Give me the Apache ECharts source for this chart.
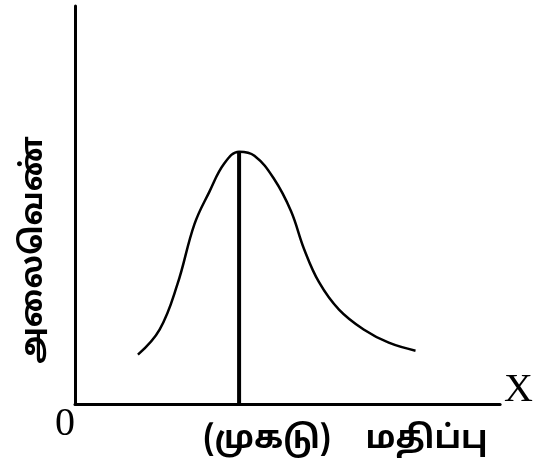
<!DOCTYPE html>
<html>
<head>
<meta charset="utf-8">
<script src="https://cdn.jsdelivr.net/npm/echarts@6/dist/echarts.min.js"></script>
<style>html,body{margin:0;padding:0;background:#fff}#c{width:536px;height:474px}</style>
</head>
<body>
<div id="c"></div>
<script>
// Curve (frequency curve), in axis units 0..100
const curveX = [14.8, 19.9, 24.1, 28.1, 31.6, 35.1, 38.6, 42.2, 46.8, 50.8, 53.9, 57.4, 62.1, 67.9, 73.8, 80.1];
const curveY = [12.4, 18.7, 30.1, 45.2, 53.3, 60.4, 63.4, 62.4, 56.6, 48.5, 38.9, 30.6, 23.7, 18.7, 15.4, 13.4];
const xTickValues = [45.2, 82.7];
const xTickLabels = ['(முகடு)', 'மதிப்பு'];
const yAxisName = 'அலைவெண்';
const xAxisName = 'X';
const originLabel = '0';

const peakIdx = curveY.indexOf(Math.max(...curveY));
const modeX = curveX[peakIdx];
const modeY = curveY[peakIdx];

const chart = echarts.init(document.getElementById('c'));
const tamilFont = '"Noto Sans Tamil","Noto Sans","Lohit Tamil",sans-serif';
const serif = '"Liberation Serif","DejaVu Serif",serif';
chart.setOption({
  animation: false,
  backgroundColor: '#fff',
  grid: { left: 75, right: 34, top: 6, bottom: 70 },
  xAxis: {
    type: 'value', min: 0, max: 100,
    axisLine: { show: true, lineStyle: { color: '#000', width: 3 } },
    axisTick: { show: false },
    splitLine: { show: false },
    axisLabel: {
      customValues: xTickValues,
      formatter: v => xTickLabels[xTickValues.indexOf(v)] || '',
      color: '#000', fontSize: 32, fontWeight: 'bold', fontFamily: tamilFont, margin: 22
    },
    name: xAxisName, nameLocation: 'end', nameGap: 4,
    nameTextStyle: { color: '#000', fontSize: 40, fontFamily: serif, verticalAlign: 'bottom', padding: [0,0,-6,0] }
  },
  yAxis: {
    type: 'value', min: 0, max: 100,
    axisLine: { show: true, lineStyle: { color: '#000', width: 3 } },
    axisTick: { show: false },
    splitLine: { show: false },
    axisLabel: { show: false }
  },
  graphic: [{
    type: 'text', left: 55, top: 404,
    style: { text: originLabel, fill: '#000', fontSize: 40, fontFamily: serif }
  }, {
    type: 'text', x: 36, y: 250, rotation: Math.PI / 2,
    style: { text: yAxisName, fill: '#000', fontSize: 30, fontWeight: 'bold', fontFamily: tamilFont, align: 'center', verticalAlign: 'middle' }
  }],
  series: [{
    type: 'line', data: curveX.map((x, i) => [x, curveY[i]]),
    smooth: 0.4, showSymbol: false,
    lineStyle: { color: '#000', width: 2.5 }
  }, {
    type: 'line', data: [[modeX, 0], [modeX, modeY]],
    showSymbol: false,
    lineStyle: { color: '#000', width: 4 }
  }]
});
</script>
</body>
</html>
